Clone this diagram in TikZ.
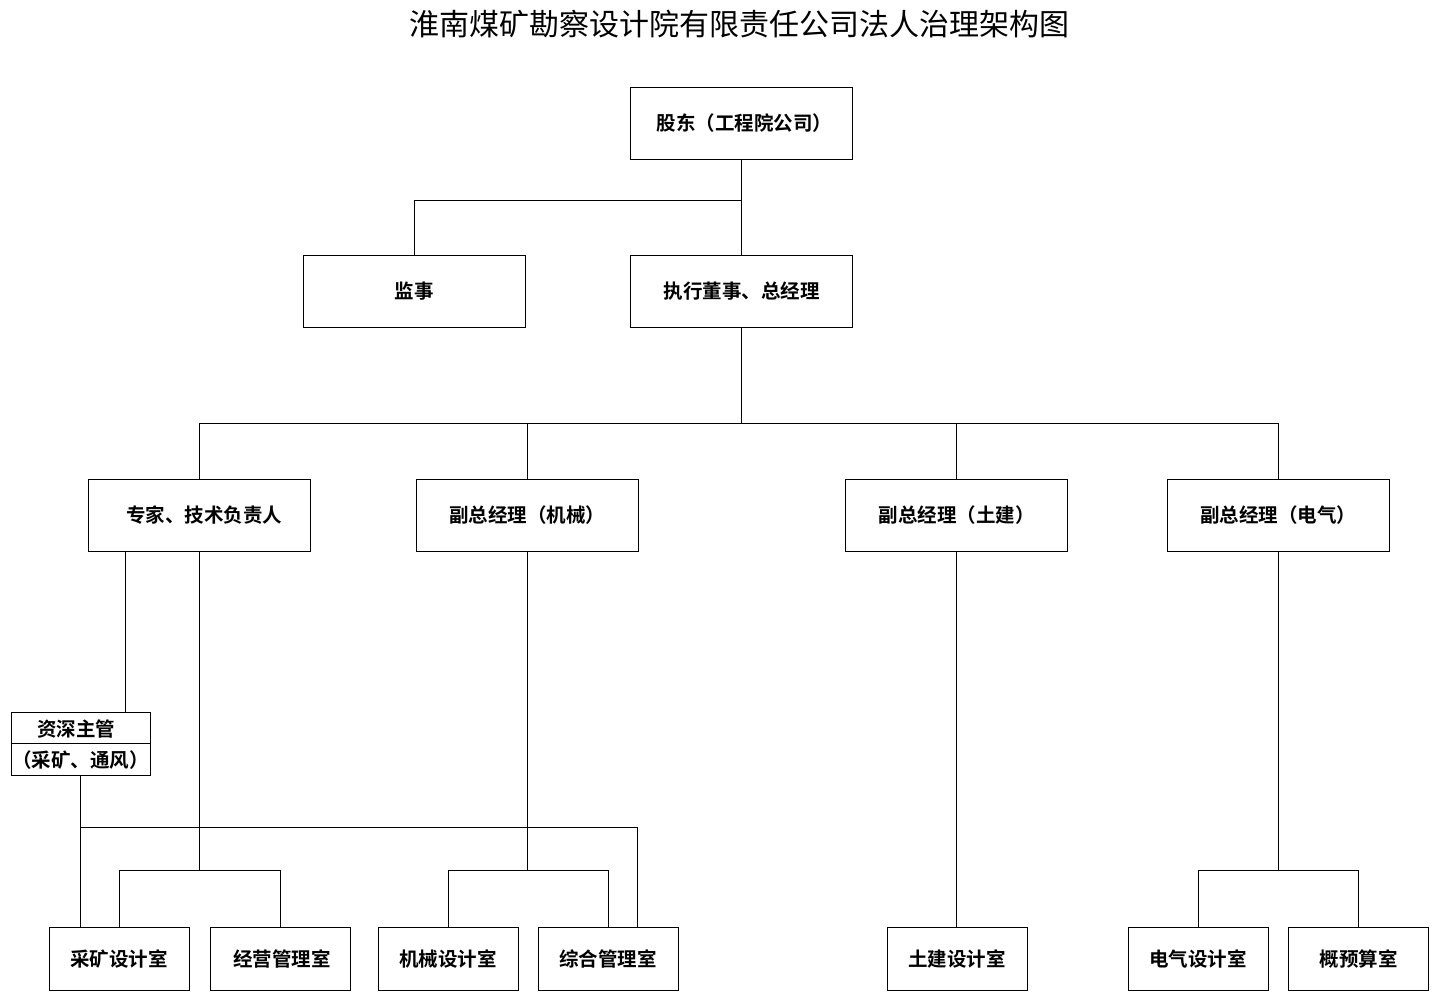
\documentclass[tikz,border=0pt]{standalone}
\usepackage{fontspec}
\newfontfamily\cjk{Noto Sans CJK SC}
\newfontfamily\cjkb{Noto Sans CJK SC Bold}
\begin{document}
\begin{tikzpicture}[x=1pt,y=-1pt,
  box/.style={draw,line width=0.8pt,inner sep=0pt,font=\cjkb\fontsize{19.5}{22}\selectfont},
  big/.style={box,minimum width=222pt,minimum height=72pt},
  small/.style={box,minimum width=140pt,minimum height=63pt},
  ln/.style={line width=0.8pt}]
\useasboundingbox (0,0) rectangle (1442,998);
\node[font=\cjk\fontsize{30}{34}\selectfont] (title) at (739,24) {淮南煤矿勘察设计院有限责任公司法人治理架构图};
% top
\node[big] (gd) at (741.5,123.5) {\hspace{6pt}股东（工程院公司）};
\node[big] (js) at (414,291) {监事};
\node[big] (zx) at (741.5,291) {执行董事、总经理};
% level 3
\node[big] (zj) at (199,515) {\hspace{10pt}专家、技术负责人};
\node[big] (jx) at (527,515) {副总经理（机械）};
\node[big] (tj) at (956.5,515) {副总经理（土建）};
\node[big] (dq) at (1278,515) {副总经理（电气）};
% senior
\node[draw,line width=0.8pt,minimum width=139pt,minimum height=63pt,inner sep=0pt] (zs) at (80.5,743.5) {};
\draw[ln] (zs.west |- 0,743) -- (zs.east |- 0,743);
\node[font=\cjkb\fontsize{19.5}{22}\selectfont] (zs1) at (76,729) {资深主管};
\node[font=\cjkb\fontsize{19.5}{22}\selectfont] (zs2) at (80.5,760) {（采矿、通风）};
% bottom
\node[small] (ck) at (119,958.5) {采矿设计室};
\node[small] (jy) at (280,958.5) {\hspace{4pt}经营管理室};
\node[small] (jj) at (448,958.5) {机械设计室};
\node[small] (zh) at (608,958.5) {综合管理室};
\node[small] (tz) at (957,958.5) {土建设计室};
\node[small] (ds) at (1198,958.5) {电气设计室};
\node[small] (gy) at (1358.5,958.5) {概预算室};
% connectors
\coordinate (b1) at (741.5,200);
\draw[ln] (gd.south) -- (zx.north);
\draw[ln] (b1) -- (414,200) -- (js.north);
\coordinate (b2) at (741.5,423);
\draw[ln] (zx.south) -- (b2);
\draw[ln] (zj.north) -- (199,423) -- (dq.north |- 0,423) -- (dq.north);
\draw[ln] (jx.north |- 0,423) -- (jx.north);
\draw[ln] (tj.north |- 0,423) -- (tj.north);
\draw[ln] (zj.south -| 125,0) -- (zs.north -| 125,0);
\draw[ln] (zj.south) -- (199,870);
\draw[ln] (ck.north) -- (119,870) -- (280,870) -- (jy.north);
\draw[ln] (zs.south) -- (ck.north -| zs.south);
\draw[ln] (zs.south |- 0,827) -- (637,827) -- (zh.north -| 637,0);
\draw[ln] (jx.south) -- (527,870);
\draw[ln] (jj.north) -- (448,870) -- (608,870) -- (zh.north);
\draw[ln] (tj.south) -- (tz.north -| tj.south);
\draw[ln] (dq.south) -- (1278,870);
\draw[ln] (ds.north) -- (1198,870) -- (1358.5,870) -- (gy.north);
\end{tikzpicture}
\end{document}
